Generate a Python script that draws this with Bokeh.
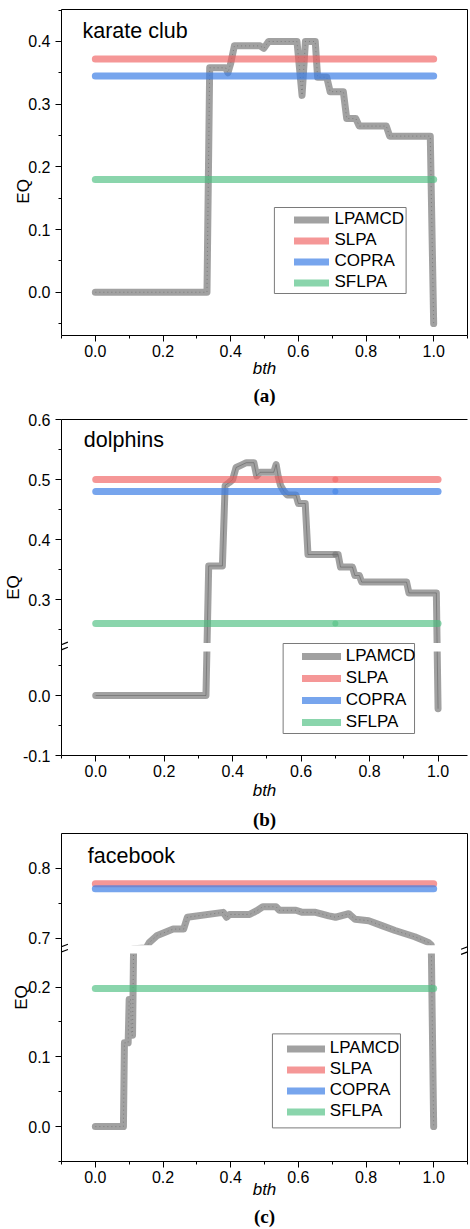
import math
from bokeh.plotting import figure
from bokeh.layouts import column
from bokeh.models import FixedTicker, LinearAxis, Legend, LegendItem, Label, Range1d
from bokeh.embed import file_html
from bokeh.resources import INLINE

# ---------------- data ----------------
series_names = ["LPAMCD", "SLPA", "COPRA", "SFLPA"]
bth_major = [0.0, 0.2, 0.4, 0.6, 0.8, 1.0]
bth_minor = [-0.1, 0.1, 0.3, 0.5, 0.7, 0.9, 1.1]

# (a) karate club
a_title = "karate club"
a_lp_x = [0.000, 0.330, 0.338, 0.385, 0.392, 0.400, 0.411, 0.487, 0.498, 0.512, 0.596, 0.611, 0.621,
          0.650, 0.657, 0.684, 0.694, 0.733, 0.743, 0.770, 0.780, 0.860, 0.870, 0.990, 1.000]
a_lp_y = [0.000, 0.000, 0.358, 0.358, 0.350, 0.365, 0.393, 0.393, 0.389, 0.400, 0.400, 0.314, 0.400,
          0.400, 0.343, 0.343, 0.320, 0.320, 0.277, 0.277, 0.265, 0.265, 0.249, 0.249, -0.050]
a_slpa, a_copra, a_sflpa = 0.372, 0.345, 0.180
a_y_major = [0.0, 0.1, 0.2, 0.3, 0.4]
a_y_minor = [-0.05, 0.05, 0.15, 0.25, 0.35, 0.45]

# (b) dolphins
b_title = "dolphins"
b_lp_x = [0.000, 0.322, 0.330, 0.370, 0.378, 0.390, 0.400, 0.410, 0.425, 0.440, 0.462, 0.470, 0.480,
          0.520, 0.527, 0.533, 0.540, 0.550, 0.560, 0.585, 0.592, 0.612, 0.620, 0.708, 0.715, 0.750,
          0.757, 0.770, 0.777, 0.908, 0.915, 0.995, 1.000]
b_lp_y = [0.000, 0.000, 0.356, 0.356, 0.490, 0.495, 0.500, 0.520, 0.524, 0.528, 0.528, 0.506, 0.512,
          0.512, 0.525, 0.505, 0.490, 0.480, 0.474, 0.474, 0.460, 0.460, 0.375, 0.375, 0.354, 0.354,
          0.340, 0.340, 0.329, 0.329, 0.311, 0.311, -0.022]
b_slpa, b_copra, b_sflpa = 0.500, 0.480, 0.260
b_mark_x = 0.7
b_mark_lp = 0.375
b_y_major = [-0.1, 0.0, 0.3, 0.4, 0.5, 0.6]
b_y_minor = [-0.05, 0.05, 0.25, 0.35, 0.45, 0.55]

# (c) facebook
c_title = "facebook"
c_lp_x = [0.000, 0.083, 0.086, 0.097, 0.100, 0.104, 0.107, 0.110, 0.113, 0.150, 0.160, 0.183, 0.230,
          0.261, 0.272, 0.378, 0.388, 0.397, 0.456, 0.476, 0.495, 0.534, 0.544, 0.593, 0.612, 0.651,
          0.690, 0.710, 0.749, 0.768, 0.808, 0.847, 0.886, 0.944, 0.984, 0.993, 1.000]
c_lp_y = [0.000, 0.000, 0.120, 0.120, 0.182, 0.182, 0.131, 0.131, 0.685, 0.686, 0.694, 0.704, 0.713,
          0.713, 0.730, 0.737, 0.730, 0.734, 0.734, 0.739, 0.745, 0.745, 0.740, 0.740, 0.737, 0.737,
          0.732, 0.730, 0.735, 0.727, 0.725, 0.718, 0.711, 0.702, 0.694, 0.690, 0.000]
c_slpa, c_copra, c_sflpa = 0.778, 0.771, 0.198
c_y_major = [0.0, 0.1, 0.2, 0.7, 0.8]
c_y_minor = [-0.05, 0.05, 0.15, 0.75]

# ---------------- styles ----------------
COLORS = {"LPAMCD": ("#6e6e6e", 0.65), "SLPA": ("#f06060", 0.65),
          "COPRA": ("#3d7fe6", 0.70), "SFLPA": ("#4cbf80", 0.65)}
SANS = "Liberation Sans"
SERIF = "Liberation Serif"
CANVAS_W = 470


def border_axis(p, side):
    ax = LinearAxis(ticker=FixedTicker(ticks=[]), major_tick_line_color=None,
                    minor_tick_line_color=None, major_label_text_font_size="0px",
                    major_tick_out=0, major_tick_in=0, minor_tick_out=0, minor_tick_in=0,
                    major_label_standoff=0, axis_line_color="black", axis_line_width=1)
    p.add_layout(ax, side)


def build(cfg):
    brk = cfg["brk"]
    if brk is None:
        tf = lambda v: v
    else:
        lo, hi = brk
        tf = lambda v: v if v <= lo else v - (hi - lo)
    y0, y1 = cfg["ylim"]
    ty0, ty1 = tf(y0), tf(y1)
    x0, x1 = cfg["xlim"]
    bl, br, bt, bb = cfg["borders"]
    H = cfg["height"]
    fw = CANVAS_W - bl - br
    fh = H - bt - bb
    sx = (x1 - x0) / fw      # data units per pixel
    sy = (ty1 - ty0) / fh
    p = figure(width=CANVAS_W, height=H, x_range=Range1d(x0, x1),
               y_range=Range1d(ty0, ty1), output_backend="svg", toolbar_location=None,
               min_border_left=bl, min_border_right=br, min_border_top=bt, min_border_bottom=bb)
    p.xgrid.visible = False
    p.ygrid.visible = False
    p.outline_line_color = None
    p.background_fill_color = "white"
    p.border_fill_color = "white"

    xa = p.xaxis[0]
    xa.ticker = FixedTicker(ticks=bth_major, minor_ticks=bth_minor)
    xa.major_label_overrides = {v: f"{v:.1f}" for v in bth_major}
    ya = p.yaxis[0]
    ya.ticker = FixedTicker(ticks=[tf(v) for v in cfg["ymaj"]], minor_ticks=[tf(v) for v in cfg["ymin"]])
    ya.major_label_overrides = {tf(v): f"{v:.1f}" for v in cfg["ymaj"]}
    for ax, st in ((xa, 3), (ya, 5)):
        ax.axis_line_color = "black"
        ax.axis_line_width = 1
        ax.major_tick_line_color = "black"
        ax.minor_tick_line_color = "black"
        ax.major_tick_out = 6
        ax.major_tick_in = 0
        ax.minor_tick_out = 3
        ax.minor_tick_in = 0
        ax.major_label_standoff = st
        ax.major_label_text_font = SANS
        ax.major_label_text_font_size = "16px"
        ax.major_label_text_color = "black"
        ax.axis_label_text_font = SANS
        ax.axis_label_text_font_size = "17px"
        ax.axis_label_text_color = "black"
    xa.axis_label = "bth"
    xa.axis_label_text_font_style = "italic"
    xa.axis_label_standoff = cfg["bth_standoff"]
    # trailing no-break spaces move the visible "EQ" along the axis
    ya.axis_label = "EQ" + "\u00a0" * cfg["eq_shift"]
    ya.axis_label_text_font_style = "normal"
    ya.axis_label_standoff = cfg["eq_standoff"]

    # caption "(a)" as the label of an empty axis below the bth axis
    cap = LinearAxis(ticker=FixedTicker(ticks=[]), axis_line_color=None, major_tick_line_color=None,
                     minor_tick_line_color=None, major_label_text_font_size="0px",
                     major_tick_out=0, major_tick_in=0, minor_tick_out=0, minor_tick_in=0,
                     major_label_standoff=0, axis_label=cfg["caption"],
                     axis_label_text_font=SERIF, axis_label_text_font_style="bold",
                     axis_label_text_font_size="19px", axis_label_text_color="black",
                     axis_label_standoff=cfg["cap_standoff"])
    p.add_layout(cap, "below")

    border_axis(p, "above")
    if cfg["right_border"]:
        border_axis(p, "right")

    # LPAMCD
    lx = cfg["lp_x"]
    ly = [tf(v) for v in cfg["lp_y"]]
    c, a = COLORS["LPAMCD"]
    renderers = {}
    renderers["LPAMCD"] = p.line(lx, ly, line_color=c, line_alpha=a, line_width=7,
                                 line_join="round", line_cap="round")
    p.line(lx, ly, line_color="#3a3a3a", line_alpha=0.35, line_width=1, line_dash=cfg["inner_dash"])
    # horizontal reference levels
    hx = [bth_major[0], bth_major[-1]]
    for name, lvl in zip(series_names[1:], cfg["levels"]):
        c, a = COLORS[name]
        renderers[name] = p.line(hx, [tf(lvl), tf(lvl)], line_color=c, line_alpha=a, line_width=7,
                                 line_cap="round")
    # highlighted samples
    if cfg.get("marks") is not None:
        mx, mys = cfg["marks"]
        for name, my in zip(series_names, mys):
            c, a = COLORS[name]
            p.scatter([mx], [tf(my)], size=6, fill_color=c, line_color=None, fill_alpha=0.55)

    # gap of the broken axis + break marks
    if brk is not None:
        g = cfg["gap"]
        p.quad(left=[x0 - 0.1], right=[x1 + 0.1], bottom=[brk[0] - g], top=[brk[0] + g],
               fill_color="white", line_color=None)
        sides = [x0] + ([x1] if cfg["right_border"] else [])
        mx0, my0, mx1, my1 = [], [], [], []
        for edge in sides:
            for off in (-2.6, 2.6):
                mx0.append(edge - 6.5 * sx)
                mx1.append(edge + 6.5 * sx)
                my0.append(brk[0] + (off - 2.5) * sy)
                my1.append(brk[0] + (off + 2.5) * sy)
        p.segment(x0=mx0, y0=my0, x1=mx1, y1=my1, line_color="black", line_width=1.2)

    # legend frame (drawn in the frame's own coordinates)
    bx_l, bx_b, bx_w, bx_h = cfg["legend_box"]
    p.quad(left=[x0 + bx_l * sx], right=[x0 + (bx_l + bx_w) * sx],
           bottom=[ty0 + bx_b * sy], top=[ty0 + (bx_b + bx_h) * sy],
           fill_color="white", line_color="#7a7a7a", line_width=1)

    lg = cfg["legend"]
    items = [LegendItem(label=name, renderers=[renderers[name]]) for name in series_names]
    leg = Legend(items=items, location=lg["loc"], padding=0, margin=0, spacing=0,
                 label_height=lg["lh"], glyph_height=lg["lh"], glyph_width=lg["gw"],
                 label_standoff=lg["ls"], label_text_font=SANS, label_text_font_size="17px",
                 label_text_color="black", border_line_color=None,
                 background_fill_color=None, background_fill_alpha=0.0)
    p.add_layout(leg)

    nx, ny = cfg["name_pos"]
    p.add_layout(Label(x=nx, y=ny, x_units="screen", y_units="screen", text=cfg["title"],
                       text_font=SANS, text_font_size="21.5px", text_align="left",
                       text_baseline="alphabetic", text_color="black"))
    return p


cfg_a = dict(title=a_title, caption="(a)", lp_x=a_lp_x, lp_y=a_lp_y, levels=[a_slpa, a_copra, a_sflpa],
             ymaj=a_y_major, ymin=a_y_minor, ylim=(-0.069, 0.451), xlim=(-0.1, 1.1), brk=None,
             height=408, borders=(59, 1, 9, 73), right_border=True, inner_dash="1 3",
             bth_standoff=-1, eq_standoff=-8, eq_shift=8, cap_standoff=4,
             legend_box=(215, 42, 133, 86),
             legend=dict(loc=(232.5, 42.5), lh=21, gw=35, ls=6),
             name_pos=(21, 304.2))

cfg_b = dict(title=b_title, caption="(b)", lp_x=b_lp_x, lp_y=b_lp_y, levels=[b_slpa, b_copra, b_sflpa],
             ymaj=b_y_major, ymin=b_y_minor, ylim=(-0.1, 0.6), xlim=(-0.1, 1.086), brk=(0.0805, 0.2205),
             gap=0.007, height=424, borders=(56, 0, 11, 77), right_border=False, inner_dash="solid",
             bth_standoff=1, eq_standoff=-3, eq_shift=0, cap_standoff=6,
             marks=(b_mark_x, [b_mark_lp, b_slpa, b_copra, b_sflpa]),
             legend_box=(226, 22, 134, 90),
             legend=dict(loc=(240.8, 22), lh=22, gw=39, ls=5),
             name_pos=(22.3, 315.2))

cfg_c = dict(title=c_title, caption="(c)", lp_x=c_lp_x, lp_y=c_lp_y, levels=[c_slpa, c_copra, c_sflpa],
             ymaj=c_y_major, ymin=c_y_minor, ylim=(-0.05, 0.85), xlim=(-0.1, 1.1), brk=(0.254, 0.684),
             gap=0.006, height=397, borders=(57, 3, 1, 67), right_border=True, inner_dash="1 3",
             bth_standoff=-6, eq_standoff=-6, eq_shift=0, cap_standoff=4,
             legend_box=(213, 33.7, 129.3, 94.3),
             legend=dict(loc=(225.8, 39.2), lh=21, gw=38, ls=5),
             name_pos=(26.3, 305.5))

layout = column(build(cfg_a), build(cfg_b), build(cfg_c))
open("out.html", "w").write(file_html(layout, INLINE))
